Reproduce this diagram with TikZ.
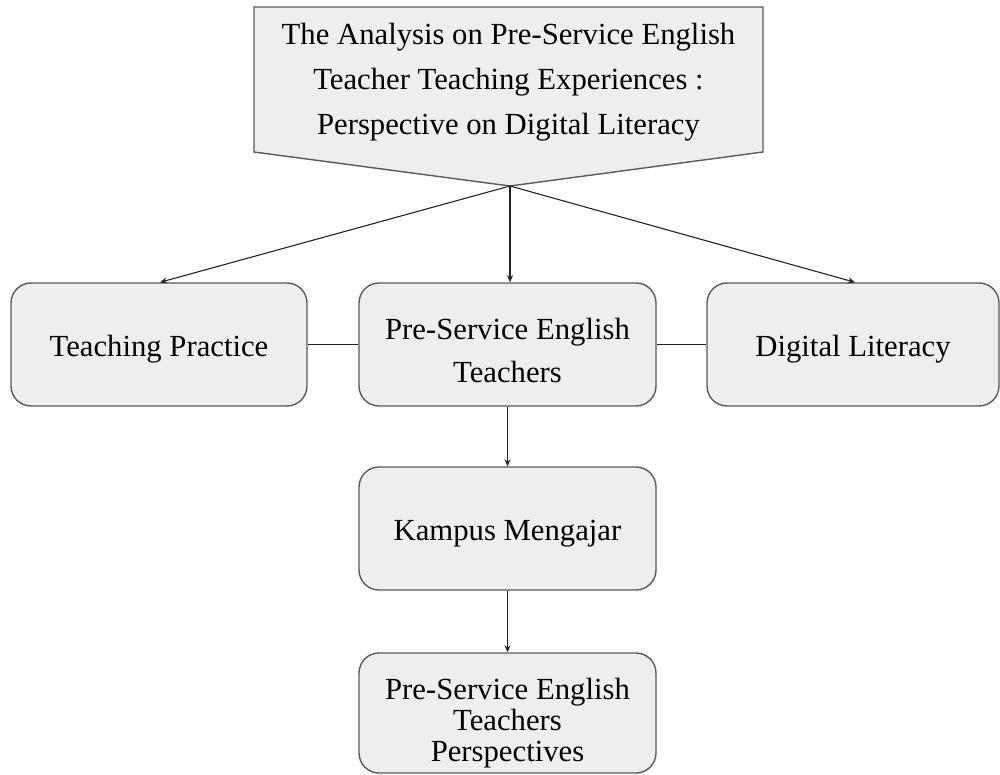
\documentclass[tikz,border=0pt]{standalone}
\usepackage{fontspec}
\setmainfont{Liberation Serif}
\usetikzlibrary{arrows.meta}
\definecolor{boxfill}{HTML}{EEEEEE}
\definecolor{boxline}{HTML}{5A5A5A}
\definecolor{linkline}{HTML}{222222}
% centred block of lines, lowered by #1 without changing its size
\newcommand{\cardtext}[2]{\raisebox{#1}[\height][\depth]{\begin{tabular}{@{}c@{}}#2\end{tabular}}}
\begin{document}
\begin{tikzpicture}[x=1pt,y=-1pt,
  card/.style={draw=boxline, fill=boxfill, line width=1.4pt, rounded corners=20pt,
    minimum height=123pt, inner sep=0pt,
    font=\fontsize{30.7}{43}\selectfont},
  link/.style={draw=linkline, line width=1.1pt},
  arrowlink/.style={link, -{Stealth[length=7pt,width=6pt]}}]
\useasboundingbox (0,0) rectangle (1000,775);

% title banner: a box ending in a downward point
\coordinate (tl) at (254,7);
\coordinate (tr) at (763,7);
\coordinate (br) at (763,152);
\coordinate (apex) at (510,186);
\coordinate (bl) at (254,152);
\draw[draw=boxline, fill=boxfill, line width=1.4pt] (tl) -- (tr) -- (br) -- (apex) -- (bl) -- cycle;
\node[align=center, inner sep=0pt, font=\fontsize{30.7}{45}\selectfont] (title) at (508.5,82.5)
  {The Analysis on Pre-Service English\\Teacher Teaching Experiences :\\Perspective on Digital Literacy};

% middle row
\node[card, minimum width=296pt] (tp) at (159,344.5) {\cardtext{-3pt}{Teaching Practice}};
\node[card, minimum width=297pt] (pset) at (507.5,344.5) {\cardtext{-8pt}{Pre-Service English\\Teachers}};
\node[card, minimum width=292pt] (dl) at (853,344.5) {\cardtext{-3pt}{Digital Literacy}};

% lower column
\node[card, minimum width=297pt] (km) at (507.5,528.5) {\cardtext{-3.5pt}{Kampus Mengajar}};
\node[card, minimum width=297pt, minimum height=120pt, font=\fontsize{30.7}{31}\selectfont] (persp) at (507.5,713)
  {\cardtext{-11pt}{Pre-Service English\\Teachers\\Perspectives}};

% connectors
\draw[arrowlink] (apex) -- ([xshift=1pt]tp.north);
\draw[arrowlink] (apex) -- (apex |- pset.north);
\draw[arrowlink] (apex) -- ([xshift=2pt]dl.north);
\draw[link] (tp.east) -- (pset.west);
\draw[link] (pset.east) -- (dl.west);
\draw[arrowlink] (pset.south) -- (km.north);
\draw[arrowlink] (km.south) -- (persp.north);
\end{tikzpicture}
\end{document}
